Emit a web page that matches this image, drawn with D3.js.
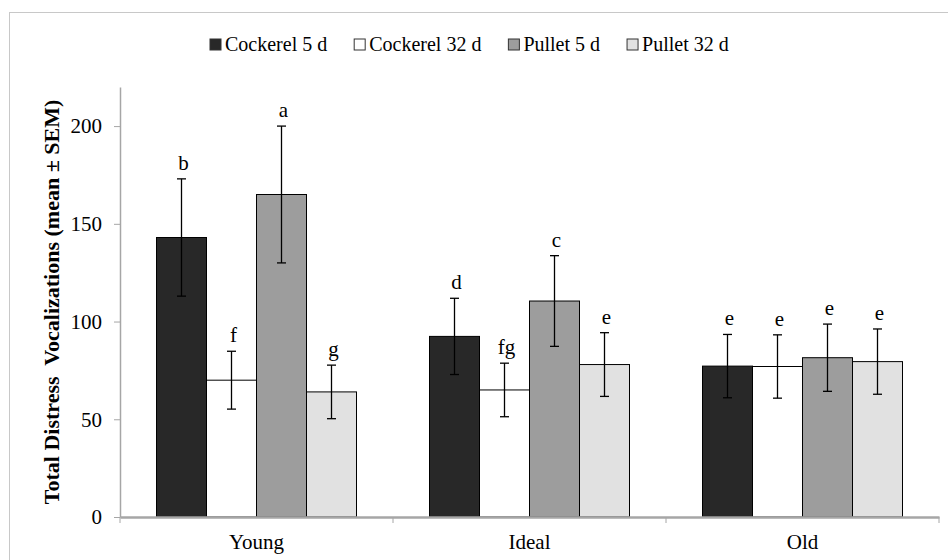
<!DOCTYPE html>
<html>
<head>
<meta charset="utf-8">
<script src="https://cdn.jsdelivr.net/npm/d3@7"></script>
<style>
  html, body { margin: 0; padding: 0; background: #fff; }
  svg, svg text { font-family: "Liberation Serif", "Times New Roman", Times, serif !important; }
  svg { display: block; }
</style>
</head>
<body>
<svg id="chart" width="948" height="560"></svg>
<script>
const categories = ["Young", "Ideal", "Old"];
const seriesNames = ["Cockerel 5 d", "Cockerel 32 d", "Pullet 5 d", "Pullet 32 d"];
const seriesColors = ["#282828", "#ffffff", "#9d9d9d", "#e1e1e1"];
// values per category: [Cockerel 5 d, Cockerel 32 d, Pullet 5 d, Pullet 32 d]
const meanYoung = [143, 70, 165, 64];
const meanIdeal = [92.4, 65, 110.5, 78];
const meanOld = [77.2, 77, 81.5, 79.5];
const semYoung = [30, 14.8, 35, 13.7];
const semIdeal = [19.5, 13.7, 23.2, 16.3];
const semOld = [16.2, 16.2, 17.2, 16.7];
const lettersYoung = ["b", "f", "a", "g"];
const lettersIdeal = ["d", "fg", "c", "e"];
const lettersOld = ["e", "e", "e", "e"];
const yTicks = [0, 50, 100, 150, 200];
const yTitle = "Total Distress  Vocalizations (mean ± SEM)";

const means = [meanYoung, meanIdeal, meanOld];
const sems = [semYoung, semIdeal, semOld];
const letters = [lettersYoung, lettersIdeal, lettersOld];

const rows = [];
categories.forEach((c, i) => {
  seriesNames.forEach((s, j) => {
    rows.push({cat: c, series: s, idx: j, mean: means[i][j], sem: sems[i][j], letter: letters[i][j]});
  });
});

const svg = d3.select("#chart");

// outer frame
svg.append("rect")
  .attr("x", 9.5).attr("y", 12.5).attr("width", 960).attr("height", 600)
  .attr("fill", "none").attr("stroke", "#c8c8c8").attr("stroke-width", 1);

const plotLeft = 120, plotRight = 939, plotTop = 87, plotBottom = 517;

const x0 = d3.scaleBand().domain(categories).range([plotLeft, plotRight]).padding(0);
const x1 = d3.scaleBand().domain(seriesNames).range([0, x0.bandwidth()]).paddingInner(0).paddingOuter(0.73);
const y = d3.scaleLinear().domain([0, 220]).range([plotBottom, plotTop]);
const color = d3.scaleOrdinal().domain(seriesNames).range(seriesColors);

// y axis
const yAxis = svg.append("g")
  .attr("transform", `translate(${plotLeft},0)`)
  .call(d3.axisLeft(y).tickValues(yTicks).tickSize(6).tickPadding(12).tickSizeOuter(0));
yAxis.attr("font-family", null);
yAxis.select(".domain").attr("stroke", "#a6a6a6").attr("stroke-width", 1.5);
yAxis.selectAll(".tick line").attr("stroke", "#a6a6a6").attr("stroke-width", 1);
yAxis.selectAll(".tick text")
  .attr("font-size", 21).attr("fill", "#000");

// bars
const bars = svg.append("g");
bars.selectAll("rect")
  .data(rows)
  .join("rect")
  .attr("x", d => x0(d.cat) + x1(d.series))
  .attr("y", d => y(d.mean))
  .attr("width", x1.bandwidth())
  .attr("height", d => y(0) - y(d.mean))
  .attr("fill", d => color(d.series))
  .attr("stroke", "#000")
  .attr("stroke-width", 1);

// x axis (drawn after bars)
const xAxis = svg.append("g")
  .attr("transform", `translate(0,${plotBottom})`)
  .call(d3.axisBottom(x0).tickSize(0).tickPadding(17));
xAxis.attr("font-family", null);
xAxis.select(".domain").attr("stroke", "#a6a6a6").attr("stroke-width", 2.5);
xAxis.selectAll(".tick text")
  .attr("font-size", 21).attr("fill", "#000");
// category separator ticks
const sepPositions = categories.map(c => x0(c)).concat([x0.range()[1]]);
svg.append("g").selectAll("line")
  .data(sepPositions)
  .join("line")
  .attr("x1", d => d).attr("x2", d => d)
  .attr("y1", plotBottom).attr("y2", plotBottom + 6)
  .attr("stroke", "#a6a6a6").attr("stroke-width", 1);

// error bars
const cap = 4.5;
const err = svg.append("g").attr("stroke", "#000").attr("stroke-width", 1.3);
rows.forEach(d => {
  const cx = x0(d.cat) + x1(d.series) + x1.bandwidth() / 2;
  const yt = y(d.mean + d.sem), yb = y(d.mean - d.sem);
  err.append("line").attr("x1", cx).attr("x2", cx).attr("y1", yt).attr("y2", yb);
  err.append("line").attr("x1", cx - cap).attr("x2", cx + cap).attr("y1", yt).attr("y2", yt);
  err.append("line").attr("x1", cx - cap).attr("x2", cx + cap).attr("y1", yb).attr("y2", yb);
});

// significance letters
svg.append("g").selectAll("text")
  .data(rows)
  .join("text")
  .attr("x", d => x0(d.cat) + x1(d.series) + x1.bandwidth() / 2 + 2)
  .attr("y", d => y(d.mean + d.sem) - 9)
  .attr("text-anchor", "middle")
  .attr("font-size", 21)
  .attr("fill", "#000")
  .text(d => d.letter);

// y axis title
svg.append("text")
  .attr("transform", `translate(59,${(plotTop + plotBottom) / 2}) rotate(-90)`)
  .attr("text-anchor", "middle")
  .attr("font-size", 22)
  .attr("font-weight", "bold")
  .attr("fill", "#000")
  .style("white-space", "pre")
  .attr("xml:space", "preserve")
  .text(yTitle);

// legend
const legend = svg.append("g");
const items = legend.selectAll("g")
  .data(seriesNames)
  .join("g");
items.append("rect")
  .attr("width", 11).attr("height", 11)
  .attr("y", 39)
  .attr("fill", d => color(d))
  .attr("stroke", "#333").attr("stroke-width", 1);
items.append("text")
  .attr("x", 15).attr("y", 51)
  .attr("font-size", 20)
  .attr("fill", "#000")
  .text(d => d);
let cursor = 0;
const gap = 27;
items.each(function() {
  const w = 15 + d3.select(this).select("text").node().getComputedTextLength();
  d3.select(this).attr("transform", `translate(${cursor},0)`);
  cursor += w + gap;
});
legend.attr("transform", "translate(210,0)");
</script>
</body>
</html>
